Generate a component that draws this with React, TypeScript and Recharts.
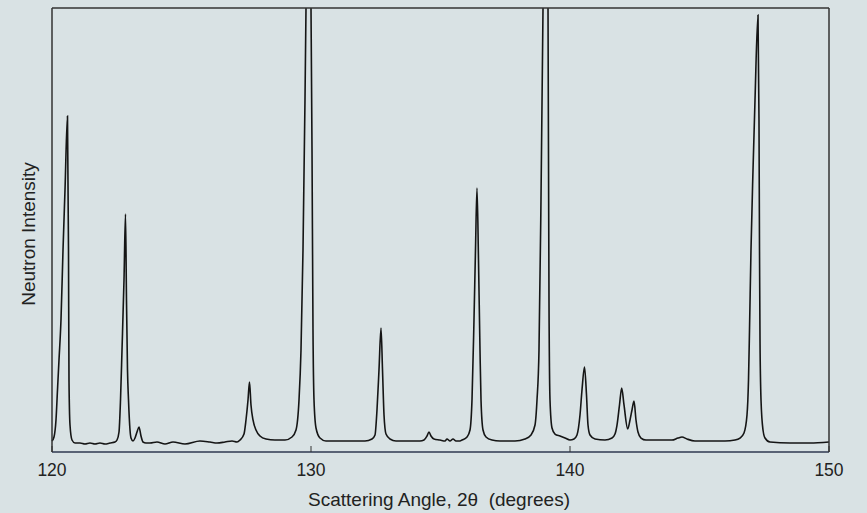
import React from 'react';
import { LineChart, Line, XAxis, YAxis } from 'recharts';

const angles: number[] = [
  120.0, 120.077, 120.154, 120.212, 120.27, 120.347, 120.425, 120.502, 120.598, 120.637, 120.656, 120.695, 120.772, 120.888,
  121.081, 121.274, 121.467, 121.66, 121.853, 122.046, 122.239, 122.432,
  122.51, 122.587, 122.645, 122.703, 122.78, 122.838, 122.876, 122.915, 122.954, 123.012, 123.05,
  123.127, 123.205, 123.282, 123.359, 123.436, 123.514, 123.629,
  123.784, 124.054, 124.363, 124.672, 125.135, 125.714, 126.1, 126.371, 126.68, 126.95, 127.143,
  127.259, 127.413, 127.49, 127.568, 127.625, 127.683, 127.761, 127.876, 128.031, 128.263, 128.61,
  128.996, 129.266, 129.421, 129.537, 129.614, 129.691, 129.768, 129.807, 129.903, 130.0, 130.039, 130.077, 130.116, 130.193, 130.347, 130.579,
  132.085, 132.355, 132.471, 132.548, 132.625, 132.703, 132.761, 132.819, 132.896, 133.05, 133.282,
  134.208, 134.363, 134.479, 134.556, 134.633, 134.749, 134.981, 135.174, 135.251, 135.367, 135.483, 135.598, 135.753,
  135.83, 136.023, 136.139, 136.216, 136.293, 136.351, 136.409, 136.467, 136.525, 136.564, 136.641, 136.757, 136.988, 137.297,
  137.876, 138.263, 138.494, 138.649, 138.726, 138.803, 138.88, 138.958, 139.054, 139.151, 139.189, 139.228, 139.305, 139.421, 139.614, 139.807, 140.0, 140.154,
  140.27, 140.386, 140.463, 140.56, 140.637, 140.695, 140.772, 140.965, 141.351, 141.622,
  141.737, 141.815, 141.911, 141.996, 142.085, 142.228, 142.317, 142.394, 142.471, 142.548, 142.625, 142.741, 142.934,
  143.475, 143.938, 144.17, 144.324, 144.517, 144.826, 145.405, 145.985, 146.371, 146.564, 146.718,
  146.834, 146.892, 146.931, 146.988, 147.066, 147.143, 147.259, 147.297, 147.317, 147.336, 147.375, 147.452, 147.529, 147.722,
  148.494, 149.266, 150.0,
];

const intensity: number[] = [
  2.48, 3.38, 7.21, 13.96, 20.72, 29.73, 45.5, 59.01, 75.68, 45.5, 16.22, 6.08, 2.7, 2.03,
  2.03, 1.8, 2.03, 1.8, 2.03, 1.8, 2.03, 2.25,
  2.7, 4.5, 11.71, 22.97, 38.74, 53.6, 34.23, 18.47, 11.71, 4.95, 3.15,
  2.48, 3.15, 4.5, 5.63, 3.6, 2.25, 2.03,
  2.03, 2.25, 1.8, 2.25, 1.8, 2.48, 2.25, 2.03, 2.25, 2.48, 2.25,
  2.7, 4.05, 7.21, 11.71, 15.77, 10.59, 7.21, 4.95, 3.6, 2.93, 2.7,
  2.7, 3.38, 4.95, 11.71, 22.97, 45.5, 79.28, 100, 169.4, 100, 68.02, 27.48, 11.71, 5.41, 3.15, 2.48,
  2.48, 2.93, 3.83, 9.46, 18.47, 27.93, 18.47, 8.33, 4.05, 2.93, 2.48,
  2.48, 2.7, 3.6, 4.5, 3.6, 2.93, 2.7, 2.48, 2.93, 2.48, 2.93, 2.48, 2.48,
  2.7, 3.38, 4.95, 11.71, 29.73, 45.5, 59.46, 43.24, 22.97, 11.71, 4.95, 3.38, 2.7, 2.48,
  2.48, 2.93, 3.83, 6.08, 11.71, 22.97, 56.76, 100, 169.4, 100, 34.23, 11.71, 5.41, 4.05, 3.6, 3.15, 2.7, 2.93,
  3.83, 8.33, 13.96, 19.14, 12.84, 6.08, 3.83, 2.93, 2.7, 3.15,
  4.05, 6.08, 10.59, 14.41, 10.59, 5.18, 7.21, 9.46, 11.49, 7.21, 4.5, 3.15, 2.7,
  2.7, 2.7, 3.15, 3.38, 2.93, 2.48, 2.48, 2.48, 2.7, 3.15, 4.28,
  8.33, 16.22, 27.48, 45.5, 63.51, 79.28, 98.42, 74.77, 45.5, 25.23, 11.71, 4.95, 3.15, 2.25,
  2.03, 2.03, 2.25,
];

const xTicks: number[] = [120, 130, 140, 150];

const data = angles.map((a, i) => ({ angle: a, intensity: intensity[i] }));

const BG = '#d9e2e4';
const FRAME = '#333';
const FONT = '"Liberation Sans", Arial, Helvetica, sans-serif';

const XTick = (props: any) => {
  const { x, y, payload } = props;
  return (
    <g>
      <line x1={x} x2={x} y1={y} y2={y - 6} stroke={FRAME} strokeWidth={1} />
      <text x={x} y={y + 18} textAnchor="middle" dominantBaseline="central" fontFamily={FONT} fontSize={17.5} fill="#222">
        {payload.value}
      </text>
    </g>
  );
};

export default function App() {
  return (
    <div style={{ position: 'absolute', left: 0, top: 0, width: 867, height: 513, background: BG, overflow: 'hidden' }}>
      <LineChart width={867} height={513} data={data} margin={{ top: 0, right: 0, bottom: 0, left: 0 }}>
        <XAxis
          dataKey="angle"
          type="number"
          domain={[120, 150]}
          ticks={xTicks}
          height={61}
          tickSize={0}
          tickMargin={0}
          tickLine={false}
          tick={<XTick />}
          axisLine={{ stroke: '#2e3850', strokeWidth: 1.5 }}
          interval={0}
          label={{
            content: () => (
              <text x={439} y={499} textAnchor="middle" dominantBaseline="central" fontFamily={FONT} fontSize={19} fill="#222" style={{ whiteSpace: 'pre' }}>
                {'Scattering Angle, 2θ\u00a0\u00a0(degrees)'}
              </text>
            ),
          }}
        />
        <XAxis
          xAxisId="top"
          orientation="top"
          dataKey="angle"
          type="number"
          domain={[120, 150]}
          height={8}
          tick={false}
          tickLine={false}
          axisLine={{ stroke: FRAME, strokeWidth: 1.5 }}
        />
        <YAxis
          type="number"
          domain={[0, 100]}
          allowDataOverflow
          width={52}
          tick={false}
          tickLine={false}
          axisLine={{ stroke: FRAME, strokeWidth: 1.5 }}
          label={{
            content: () => (
              <text x={28} y={234} transform="rotate(-90 28 234)" textAnchor="middle" dominantBaseline="central" fontFamily={FONT} fontSize={19} fill="#222">
                Neutron Intensity
              </text>
            ),
          }}
        />
        <YAxis
          yAxisId="right"
          orientation="right"
          type="number"
          domain={[0, 100]}
          width={38}
          tick={false}
          tickLine={false}
          axisLine={{ stroke: FRAME, strokeWidth: 1.5 }}
        />
        <Line
          type="monotone"
          dataKey="intensity"
          stroke="#151515"
          strokeWidth={1.6}
          dot={false}
          activeDot={false}
          isAnimationActive={false}
        />
      </LineChart>
    </div>
  );
}
